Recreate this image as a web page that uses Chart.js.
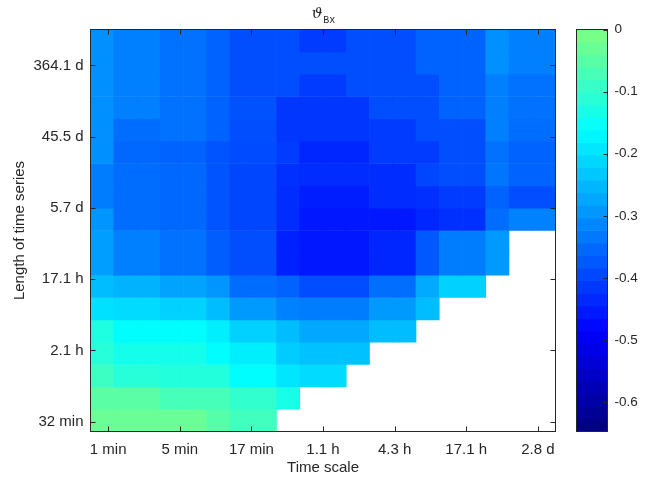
<!DOCTYPE html>
<html>
<head>
<meta charset="utf-8">
<script src="https://cdn.jsdelivr.net/npm/chart.js@4.4.0/dist/chart.umd.min.js"></script>
<style>
  html, body { margin: 0; padding: 0; background: #fff; }
  #wrap { position: relative; width: 654px; height: 483px; }
  #heat { position: absolute; left: 0; top: 0; }
  #bar { position: absolute; left: 560px; top: 0; }
</style>
</head>
<body>
<div id="wrap">
  <canvas id="heat" width="654" height="483"></canvas>
  <canvas id="bar" width="94" height="483"></canvas>
</div>
<script>
// axis labels
const xLabels = ['1 min', '5 min', '17 min', '1.1 h', '4.3 h', '17.1 h', '2.8 d'];
const xTickAt = [0.76, 3.84, 6.92, 10.0, 13.08, 16.16, 19.24];   // in column units
const yLabels = ['32 min', '2.1 h', '17.1 h', '5.7 d', '45.5 d', '364.1 d'];
const yTickAt = [0.44, 3.63, 6.82, 10.01, 13.2, 16.39];          // in row units
const cbTicks = [0, -0.1, -0.2, -0.3, -0.4, -0.5, -0.6];
const cbMin = -0.647;
const cbMax = 0;

// theta_Bx, one row per length of time series (shortest first), 20 time scales each
const N = null;
const thetaBx = [
  [-0.029,-0.029,-0.029,-0.029,-0.029,-0.054,-0.080,-0.080,N,N,N,N,N,N,N,N,N,N,N,N],
  [-0.048,-0.048,-0.048,-0.073,-0.073,-0.073,-0.099,-0.099,-0.131,N,N,N,N,N,N,N,N,N,N,N],
  [-0.086,-0.112,-0.112,-0.118,-0.118,-0.118,-0.163,-0.163,-0.194,-0.207,-0.207,N,N,N,N,N,N,N,N,N],
  [-0.112,-0.137,-0.137,-0.137,-0.137,-0.163,-0.182,-0.182,-0.226,-0.239,-0.239,-0.239,N,N,N,N,N,N,N,N],
  [-0.124,-0.163,-0.163,-0.163,-0.163,-0.182,-0.220,-0.220,-0.245,-0.271,-0.271,-0.271,-0.245,-0.245,N,N,N,N,N,N],
  [-0.201,-0.207,-0.207,-0.220,-0.220,-0.245,-0.290,-0.290,-0.322,-0.328,-0.328,-0.328,-0.290,-0.290,-0.245,N,N,N,N,N],
  [-0.245,-0.258,-0.258,-0.277,-0.277,-0.296,-0.347,-0.347,-0.360,-0.388,-0.388,-0.388,-0.345,-0.345,-0.268,-0.220,-0.220,N,N,N],
  [-0.284,-0.324,-0.324,-0.341,-0.341,-0.366,-0.386,-0.386,-0.443,-0.456,-0.456,-0.456,-0.437,-0.437,-0.373,-0.328,-0.328,-0.290,N,N],
  [-0.284,-0.324,-0.324,-0.341,-0.341,-0.366,-0.386,-0.386,-0.443,-0.456,-0.456,-0.456,-0.437,-0.437,-0.373,-0.328,-0.328,-0.290,N,N],
  [-0.296,-0.347,-0.347,-0.354,-0.354,-0.379,-0.396,-0.396,-0.430,-0.456,-0.456,-0.456,-0.456,-0.456,-0.437,-0.424,-0.424,-0.347,-0.322,-0.322],
  [-0.328,-0.347,-0.347,-0.354,-0.354,-0.379,-0.396,-0.396,-0.430,-0.449,-0.449,-0.449,-0.430,-0.430,-0.426,-0.411,-0.411,-0.360,-0.386,-0.386],
  [-0.328,-0.347,-0.347,-0.354,-0.354,-0.379,-0.396,-0.396,-0.424,-0.430,-0.430,-0.430,-0.430,-0.430,-0.398,-0.386,-0.386,-0.335,-0.360,-0.360],
  [-0.303,-0.354,-0.354,-0.360,-0.360,-0.379,-0.392,-0.392,-0.411,-0.437,-0.437,-0.437,-0.411,-0.411,-0.411,-0.386,-0.386,-0.341,-0.360,-0.360],
  [-0.303,-0.347,-0.347,-0.341,-0.341,-0.360,-0.386,-0.386,-0.417,-0.417,-0.417,-0.417,-0.411,-0.411,-0.386,-0.386,-0.386,-0.324,-0.347,-0.347],
  [-0.303,-0.324,-0.324,-0.341,-0.341,-0.360,-0.383,-0.383,-0.417,-0.417,-0.417,-0.417,-0.386,-0.386,-0.386,-0.360,-0.360,-0.324,-0.341,-0.341],
  [-0.303,-0.324,-0.324,-0.341,-0.341,-0.360,-0.386,-0.386,-0.386,-0.411,-0.411,-0.386,-0.386,-0.386,-0.386,-0.360,-0.360,-0.324,-0.341,-0.341],
  [-0.303,-0.324,-0.324,-0.341,-0.341,-0.360,-0.386,-0.386,-0.386,-0.386,-0.386,-0.386,-0.386,-0.386,-0.360,-0.360,-0.360,-0.303,-0.324,-0.324],
  [-0.303,-0.324,-0.324,-0.341,-0.341,-0.360,-0.386,-0.386,-0.386,-0.411,-0.411,-0.386,-0.386,-0.386,-0.360,-0.360,-0.360,-0.303,-0.324,-0.324]
];

const FONT = '"Liberation Sans", Arial, Helvetica, sans-serif';
const INK = '#262626';

// lower half of jet: dark blue -> blue -> cyan -> light green
function cmap(v) {
  let t = (v - cbMin) / (cbMax - cbMin) * 0.5;
  t = Math.max(0, Math.min(0.5, t));
  let r = 0, g = 0, b = 0;
  if (t < 0.125) { b = 0.5 + 4 * t; }
  else if (t < 0.375) { g = 4 * (t - 0.125); b = 1; }
  else { r = 4 * (t - 0.375); g = 1; b = 1 - r; }
  return 'rgb(' + Math.round(r * 255) + ',' + Math.round(g * 255) + ',' + Math.round(b * 255) + ')';
}

const cells = [];
const cellColors = [];
thetaBx.forEach((row, r) => {
  row.forEach((v, c) => {
    if (v === null) return;
    cells.push({ x: c + 0.5, y: [r, r + 1] });
    cellColors.push(cmap(v));
  });
});

// inward ticks + box, like the original axes
const framePlugin = {
  id: 'frame',
  afterDatasetsDraw(chart) {
    const { ctx, chartArea: a, scales } = chart;
    ctx.save();
    ctx.strokeStyle = INK;
    ctx.lineWidth = 1;
    ctx.beginPath();
    scales.x.ticks.forEach(t => {
      const px = Math.round(scales.x.getPixelForValue(t.value)) + 0.5;
      ctx.moveTo(px, a.bottom); ctx.lineTo(px, a.bottom - 5);
      ctx.moveTo(px, a.top); ctx.lineTo(px, a.top + 5);
    });
    scales.y.ticks.forEach(t => {
      const py = Math.round(scales.y.getPixelForValue(t.value)) + 0.5;
      ctx.moveTo(a.left, py); ctx.lineTo(a.left + 5, py);
      ctx.moveTo(a.right, py); ctx.lineTo(a.right - 5, py);
    });
    ctx.stroke();
    ctx.strokeRect(a.left, a.top, a.right - a.left, a.bottom - a.top);
    ctx.restore();
  }
};

// title: theta with subscript Bx
const titlePlugin = {
  id: 'subTitle',
  afterDraw(chart) {
    const { ctx, chartArea: a } = chart;
    const cx = (a.left + a.right) / 2;
    ctx.save();
    ctx.fillStyle = INK;
    ctx.textAlign = 'left';
    ctx.textBaseline = 'alphabetic';
    const f1 = 'italic 15px "DejaVu Serif", serif';
    const f2 = '10px "Liberation Mono", monospace';
    ctx.font = f1;
    const w1 = ctx.measureText('ϑ').width;
    ctx.font = f2;
    const w2 = ctx.measureText('Bx').width;
    const x0 = cx - (w1 + w2) / 2;
    ctx.font = f1;
    ctx.fillText('ϑ', x0, 18);
    ctx.font = f2;
    ctx.fillText('Bx', x0 + w1 + 1, 23);
    ctx.restore();
  }
};

new Chart(document.getElementById('heat'), {
  type: 'bar',
  data: {
    datasets: [{
      data: cells,
      backgroundColor: cellColors,
      borderWidth: 0,
      barPercentage: 1,
      categoryPercentage: 1
    }]
  },
  options: {
    responsive: false,
    animation: false,
    events: [],
    layout: { padding: { top: 29.5, right: 98.5, left: 0, bottom: 0 } },
    plugins: { legend: { display: false }, tooltip: { enabled: false } },
    scales: {
      x: {
        type: 'linear', min: 0, max: 20, offset: false,
        grid: { display: false, drawTicks: false }, border: { display: false },
        afterBuildTicks: s => { s.ticks = xTickAt.map(v => ({ value: v })); },
        afterFit: s => { s.height = 51.5; },
        ticks: {
          autoSkip: false, maxRotation: 0, padding: 9, color: INK,
          font: { family: FONT, size: 15 },
          callback: (v, i) => xLabels[i]
        },
        title: {
          display: true, text: 'Time scale', color: INK,
          font: { family: FONT, size: 15 }, padding: { top: 0, bottom: 6 }
        }
      },
      y: {
        type: 'linear', min: 0, max: 18,
        grid: { display: false, drawTicks: false }, border: { display: false },
        afterBuildTicks: s => { s.ticks = yTickAt.map(v => ({ value: v })); },
        afterFit: s => { s.width = 90.5; },
        ticks: {
          autoSkip: false, padding: 7, color: INK,
          font: { family: FONT, size: 15 },
          callback: (v, i) => yLabels[i]
        },
        title: {
          display: true, text: 'Length of time series', color: INK,
          font: { family: FONT, size: 15 }, padding: { top: 11, bottom: 0 }
        }
      }
    }
  },
  plugins: [framePlugin, titlePlugin]
});

// colour bar, 32 steps
const bands = [];
const bandColors = [];
for (let i = 0; i < 32; i++) {
  const lo = cbMin + (cbMax - cbMin) * i / 32;
  const hi = cbMin + (cbMax - cbMin) * (i + 1) / 32;
  bands.push({ x: 'cb', y: [lo, hi] });
  bandColors.push(cmap((lo + hi) / 2));
}

const barFrame = {
  id: 'barFrame',
  afterDatasetsDraw(chart) {
    const { ctx, chartArea: a, scales } = chart;
    ctx.save();
    ctx.strokeStyle = INK;
    ctx.lineWidth = 1;
    ctx.beginPath();
    scales.y.ticks.forEach(t => {
      const py = Math.round(scales.y.getPixelForValue(t.value)) + 0.5;
      ctx.moveTo(a.right, py); ctx.lineTo(a.right - 4, py);
    });
    ctx.stroke();
    ctx.strokeRect(a.left, a.top, a.right - a.left, a.bottom - a.top);
    ctx.restore();
  }
};

new Chart(document.getElementById('bar'), {
  type: 'bar',
  data: {
    labels: ['cb'],
    datasets: [{
      data: bands,
      backgroundColor: bandColors,
      borderWidth: 0,
      barPercentage: 1,
      categoryPercentage: 1
    }]
  },
  options: {
    responsive: false,
    animation: false,
    events: [],
    layout: { padding: { top: 29.5, left: 16.5, right: 0, bottom: 51.5 } },
    plugins: { legend: { display: false }, tooltip: { enabled: false } },
    scales: {
      x: { display: false },
      y: {
        position: 'right', min: cbMin, max: cbMax,
        grid: { display: false, drawTicks: false }, border: { display: false },
        afterBuildTicks: s => { s.ticks = cbTicks.map(v => ({ value: v })); },
        afterFit: s => { s.width = 46.5; },
        ticks: {
          padding: 7, color: INK,
          font: { family: FONT, size: 13.5 },
          callback: v => String(Math.round(v * 10) / 10)
        }
      }
    }
  },
  plugins: [barFrame]
});
</script>
</body>
</html>
